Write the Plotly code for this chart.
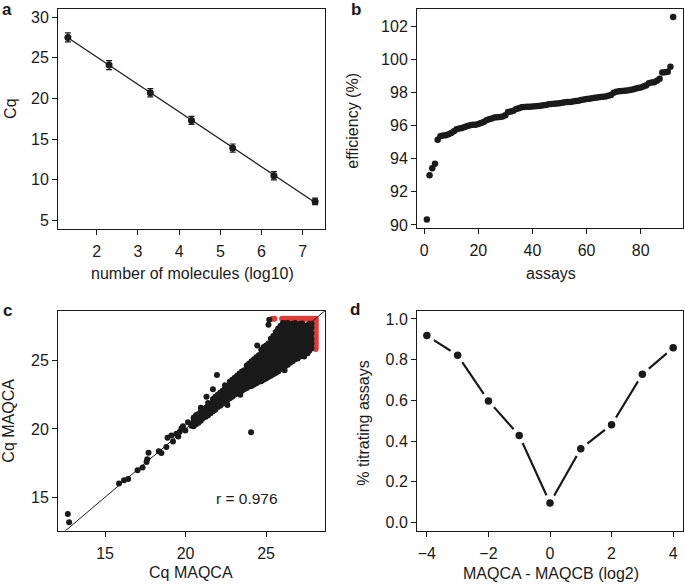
import numpy as np
import plotly.graph_objects as go

W, H = 685, 588
FONT = "Liberation Sans, Arial, sans-serif"
BLACK = "#1a1a1a"
RED = "#e23b36"
FS = 16

# ---------------- panel a ----------------
mol_log10 = [1.3, 2.3, 3.3, 4.3, 5.3, 6.3, 7.3]
cq_mean = [27.5, 24.1, 20.7, 17.3, 13.9, 10.5, 7.35]
cq_err = [0.55, 0.55, 0.5, 0.5, 0.5, 0.5, 0.4]

# ---------------- panel b ----------------
efficiency = [
    90.33, 93.00, 93.43, 93.70, 95.15, 95.35, 95.40, 95.42, 95.48, 95.55,
    95.65, 95.78, 95.82, 95.85, 95.92, 95.98, 96.02, 96.05, 96.05, 96.10,
    96.15, 96.22, 96.32, 96.38, 96.42, 96.48, 96.50, 96.52, 96.55, 96.62,
    96.82, 96.85, 96.90, 97.00, 97.05, 97.10, 97.12, 97.13, 97.14, 97.15,
    97.16, 97.18, 97.20, 97.22, 97.24, 97.28, 97.30, 97.32, 97.33, 97.35,
    97.38, 97.40, 97.42, 97.43, 97.45, 97.48, 97.50, 97.55, 97.58, 97.60,
    97.62, 97.65, 97.68, 97.70, 97.72, 97.74, 97.76, 97.80, 97.85, 97.98,
    98.04, 98.07, 98.08, 98.10, 98.12, 98.15, 98.18, 98.22, 98.26, 98.30,
    98.36, 98.42, 98.55, 98.60, 98.62, 98.70, 98.82, 99.20, 99.22, 99.25,
    99.55, 102.55,
]
assay_idx = list(range(1, len(efficiency) + 1))

# ---------------- panel c ----------------
# sparse low-Cq points and outliers (x, y)
cq_sparse = [
    (12.69, 13.77), (12.77, 13.16), (15.87, 16.01), (16.18, 16.25), (16.44, 16.33),
    (17.02, 16.98), (17.33, 17.17), (17.58, 17.58), (17.62, 17.78), (17.70, 18.26),
    (18.34, 18.36), (18.50, 18.23), (18.81, 18.67), (18.88, 19.35), (19.12, 19.51),
    (19.22, 19.08), (19.43, 19.64), (19.64, 19.80), (19.84, 20.19), (19.99, 19.88),
    (20.15, 20.48), (20.36, 20.24), (20.52, 20.84), (19.55, 19.45), (19.75, 20.05),
    (24.07, 19.76), (21.95, 23.94), (21.70, 22.90), (21.30, 22.36), (24.45, 26.10),
    (25.20, 28.00), (25.15, 27.62), (26.15, 24.30), (25.40, 24.28), (27.37, 25.30),
    (27.58, 25.55), (26.96, 25.15), (22.60, 21.75), (23.40, 22.50), (20.95, 21.55),
]
# dense band: each column's x followed by its y values
band_x = [
    20.50, 20.65, 20.80, 20.95, 21.10, 21.25, 21.40, 21.55, 21.70, 21.85,
    22.00, 22.15, 22.30, 22.45, 22.60, 22.75, 22.90, 23.05, 23.20, 23.35,
    23.50, 23.65, 23.80, 23.95, 24.10, 24.25, 24.40, 24.55, 24.70, 24.85,
    25.00, 25.15, 25.30, 25.45, 25.60, 25.75, 25.90, 26.05, 26.20, 26.35,
    26.50, 26.65, 26.80, 26.95, 27.10, 27.25, 27.40, 27.55, 27.70, 27.82,
]
band_y = [
    [20.2, 20.5, 20.8],
    [20.35, 20.7, 21.0],
    [20.45, 20.75, 21.1],
    [20.6, 20.9, 21.25],
    [20.8, 21.1, 21.4],
    [20.9, 21.2, 21.55],
    [21.0, 21.3, 21.65, 21.9],
    [21.15, 21.45, 21.8],
    [21.3, 21.6, 21.95, 22.2],
    [21.4, 21.7, 22.05, 22.35],
    [21.6, 21.9, 22.2, 22.5],
    [21.7, 22.0, 22.35, 22.65],
    [21.85, 22.15, 22.5, 22.8],
    [21.95, 22.3, 22.6, 22.95, 23.2],
    [22.1, 22.4, 22.75, 23.05],
    [22.25, 22.55, 22.9, 23.2, 23.45],
    [22.35, 22.7, 23.0, 23.35, 23.6],
    [22.5, 22.8, 23.1, 23.45, 23.75],
    [22.6, 22.95, 23.3, 23.6, 23.9],
    [22.7, 23.05, 23.4, 23.7, 24.05],
    [22.8, 23.15, 23.5, 23.85, 24.2],
    [22.9, 23.25, 23.6, 23.95, 24.3],
    [23.0, 23.35, 23.7, 24.05, 24.4, 24.65],
    [23.1, 23.45, 23.8, 24.15, 24.5, 24.8],
    [23.15, 23.5, 23.9, 24.25, 24.6, 24.95],
    [23.25, 23.6, 24.0, 24.35, 24.7, 25.1],
    [23.35, 23.7, 24.1, 24.45, 24.85, 25.25],
    [23.45, 23.8, 24.2, 24.6, 25.0, 25.4],
    [23.5, 23.9, 24.3, 24.7, 25.1, 25.5, 25.8],
    [23.6, 24.0, 24.4, 24.8, 25.2, 25.6, 26.0],
    [23.7, 24.1, 24.5, 24.9, 25.3, 25.7, 26.1],
    [23.8, 24.2, 24.6, 25.0, 25.4, 25.8, 26.25],
    [23.9, 24.3, 24.7, 25.1, 25.5, 25.9, 26.3, 26.6],
    [24.0, 24.4, 24.8, 25.2, 25.6, 26.0, 26.4, 26.8],
    [24.1, 24.5, 24.9, 25.3, 25.7, 26.1, 26.5, 26.9, 27.1],
    [24.2, 24.6, 25.0, 25.4, 25.8, 26.2, 26.6, 27.0, 27.35],
    [24.35, 24.75, 25.15, 25.55, 25.95, 26.35, 26.75, 27.15, 27.55],
    [24.45, 24.85, 25.25, 25.65, 26.05, 26.45, 26.85, 27.25, 27.6, 27.75],
    [24.6, 25.0, 25.4, 25.8, 26.2, 26.6, 27.0, 27.4, 27.72],
    [24.7, 25.1, 25.5, 25.9, 26.3, 26.7, 27.1, 27.45, 27.75],
    [24.85, 25.25, 25.65, 26.05, 26.45, 26.85, 27.25, 27.55],
    [24.95, 25.35, 25.75, 26.15, 26.55, 26.95, 27.35, 27.7],
    [25.1, 25.5, 25.9, 26.3, 26.7, 27.1, 27.45, 27.75],
    [25.2, 25.6, 26.0, 26.4, 26.8, 27.2, 27.55],
    [25.3, 25.7, 26.1, 26.5, 26.9, 27.3, 27.7],
    [25.4, 25.8, 26.2, 26.6, 27.0, 27.4, 27.72],
    [25.5, 25.9, 26.3, 26.7, 27.1, 27.5],
    [25.6, 26.0, 26.4, 26.8, 27.2, 27.6],
    [25.75, 26.1, 26.5, 26.9, 27.3, 27.7],
    [25.9, 26.25, 26.6, 27.0, 27.4, 27.7],
]
# censored (red) points at the Cq ceiling
red_top_x = [25.40, 25.52, 26.00, 26.15, 26.30, 26.45, 26.60, 26.75, 26.90,
             27.05, 27.20, 27.35, 27.50, 27.65, 27.80, 27.95, 28.08]
red_top_y = 28.06
red_right_y = [25.85, 26.00, 26.15, 26.30, 26.45, 26.60, 26.75, 26.90, 27.05,
               27.20, 27.35, 27.50, 27.65, 27.80, 27.95]
red_right_x = 28.08
r_label = "r = 0.976"

# ---------------- panel d ----------------
log2_diff = [-4, -3, -2, -1, 0, 1, 2, 3, 4]
pct_titrating = [0.918, 0.821, 0.597, 0.427, 0.095, 0.362, 0.480, 0.728, 0.858]

# ---------------- layout geometry (pixels) ----------------
def xdom(l, r):
    return [l / W, r / W]

def ydom(t, b):
    return [1 - b / H, 1 - t / H]

boxes = {
    "a": (58, 325, 9, 231),
    "b": (417, 683, 9, 230),
    "c": (58, 325, 314, 536),
    "d": (417, 683, 314, 536),
}

fig = go.Figure()

# panel a
fit = np.polyfit(mol_log10, cq_mean, 1)
fx = np.array([mol_log10[0], mol_log10[-1]])
fig.add_trace(go.Scatter(x=fx, y=np.polyval(fit, fx), mode="lines",
                         line=dict(color=BLACK, width=1.2), xaxis="x", yaxis="y",
                         showlegend=False, hoverinfo="skip"))
fig.add_trace(go.Scatter(x=mol_log10, y=cq_mean, mode="markers",
                         marker=dict(color=BLACK, size=7),
                         error_y=dict(type="data", array=cq_err, color=BLACK,
                                      thickness=1.2, width=3),
                         xaxis="x", yaxis="y", showlegend=False))

# panel b
fig.add_trace(go.Scatter(x=assay_idx, y=efficiency, mode="markers",
                         marker=dict(color=BLACK, size=6.5),
                         xaxis="x2", yaxis="y2", showlegend=False))

# panel c
bx, by = [], []
for xv, ys in zip(band_x, band_y):
    for yv in ys:
        bx.append(xv)
        by.append(yv)
sx = [p[0] for p in cq_sparse]
sy = [p[1] for p in cq_sparse]
rx = red_top_x + [red_right_x] * len(red_right_y)
ry = [red_top_y] * len(red_top_x) + red_right_y
fig.add_trace(go.Scatter(x=rx, y=ry, mode="markers",
                         marker=dict(color=RED, size=6),
                         xaxis="x3", yaxis="y3", showlegend=False))
fig.add_trace(go.Scatter(x=bx + sx, y=by + sy, mode="markers",
                         marker=dict(color=BLACK, size=6),
                         xaxis="x3", yaxis="y3", showlegend=False))

# panel d
fig.add_trace(go.Scatter(x=log2_diff, y=pct_titrating, mode="lines",
                         line=dict(color=BLACK, width=2.2),
                         xaxis="x4", yaxis="y4", showlegend=False))
fig.add_trace(go.Scatter(x=log2_diff, y=pct_titrating, mode="markers",
                         marker=dict(color="white", size=17),
                         xaxis="x4", yaxis="y4", showlegend=False))
fig.add_trace(go.Scatter(x=log2_diff, y=pct_titrating, mode="markers",
                         marker=dict(color=BLACK, size=7.5),
                         xaxis="x4", yaxis="y4", showlegend=False))

axis_common = dict(showline=True, mirror=True, linecolor=BLACK, linewidth=1,
                   ticks="outside", ticklen=5, tickwidth=1, tickcolor=BLACK,
                   showgrid=False, zeroline=False,
                   tickfont=dict(family=FONT, size=FS, color=BLACK))
xaxis_common = dict(axis_common, ticklabelstandoff=3)

xa = boxes["a"]; xb = boxes["b"]; xc = boxes["c"]; xd = boxes["d"]
layout = dict(
    width=W, height=H, margin=dict(l=0, r=0, t=0, b=0),
    paper_bgcolor="white", plot_bgcolor="white",
    font=dict(family=FONT, size=FS, color=BLACK),
    xaxis=dict(xaxis_common, domain=xdom(xa[0], xa[1]), range=[1.06, 7.54],
               tickvals=[2, 3, 4, 5, 6, 7], anchor="y"),
    yaxis=dict(axis_common, domain=ydom(xa[2], xa[3]), range=[4.0, 31.0],
               tickvals=[5, 10, 15, 20, 25, 30], anchor="x"),
    xaxis2=dict(xaxis_common, domain=xdom(xb[0], xb[1]), range=[-2.64, 95.64],
                tickvals=[0, 20, 40, 60, 80], anchor="y2"),
    yaxis2=dict(axis_common, domain=ydom(xb[2], xb[3]), range=[89.84, 103.04],
                tickvals=[90, 92, 94, 96, 98, 100, 102], anchor="x2"),
    xaxis3=dict(xaxis_common, domain=xdom(xc[0], xc[1]), range=[12.08, 28.66],
                tickvals=[15, 20, 25], anchor="y3"),
    yaxis3=dict(axis_common, domain=ydom(xc[2], xc[3]), range=[12.56, 28.65],
                tickvals=[15, 20, 25], anchor="x3"),
    xaxis4=dict(xaxis_common, domain=xdom(xd[0], xd[1]), range=[-4.32, 4.32],
                tickvals=[-4, -2, 0, 2, 4], anchor="y4"),
    yaxis4=dict(axis_common, domain=ydom(xd[2], xd[3]), range=[-0.04, 1.04],
                tickvals=[0, 0.2, 0.4, 0.6, 0.8, 1.0], tickformat=".1f", anchor="x4"),
)
fig.update_layout(**layout)

# identity line in panel c
fig.add_shape(type="line", xref="x3", yref="y3", x0=11.0, y0=11.0, x1=29.5, y1=29.5,
              line=dict(color=BLACK, width=1))

def ann(text, px, py, angle=0, size=FS, bold=False):
    fig.add_annotation(text=("<b>%s</b>" % text) if bold else text,
                       x=px / W, y=1 - py / H, xref="paper", yref="paper",
                       showarrow=False, textangle=angle, xanchor="center", yanchor="middle",
                       font=dict(family=FONT, size=size, color=BLACK))

# axis titles
ann("number of molecules (log10)", 192, 276)
ann("Cq", 11, 110, angle=-90)
ann("assays", 551, 276)
ann("efficiency (%)", 353, 122, angle=-90)
ann("Cq MAQCA", 191, 578)
ann("Cq MAQCA", 9, 425, angle=-90)
ann("MAQCA - MAQCB (log2)", 551, 579)
ann("% titrating assays", 364, 428, angle=-90)

# panel letters
ann("a", 7, 10, size=17, bold=True)
ann("b", 356, 10, size=17, bold=True)
ann("c", 7, 314, size=17, bold=True)
ann("d", 355, 313, size=17, bold=True)

# r label in panel c
fig.add_annotation(text=r_label, x=23.84, y=14.88, xref="x3", yref="y3",
                   showarrow=False, font=dict(family=FONT, size=15.5, color=BLACK))

fig.write_html("out.html", config={"displayModeBar": False},
               post_script="document.body.style.margin='0';document.body.style.overflow='hidden';")
